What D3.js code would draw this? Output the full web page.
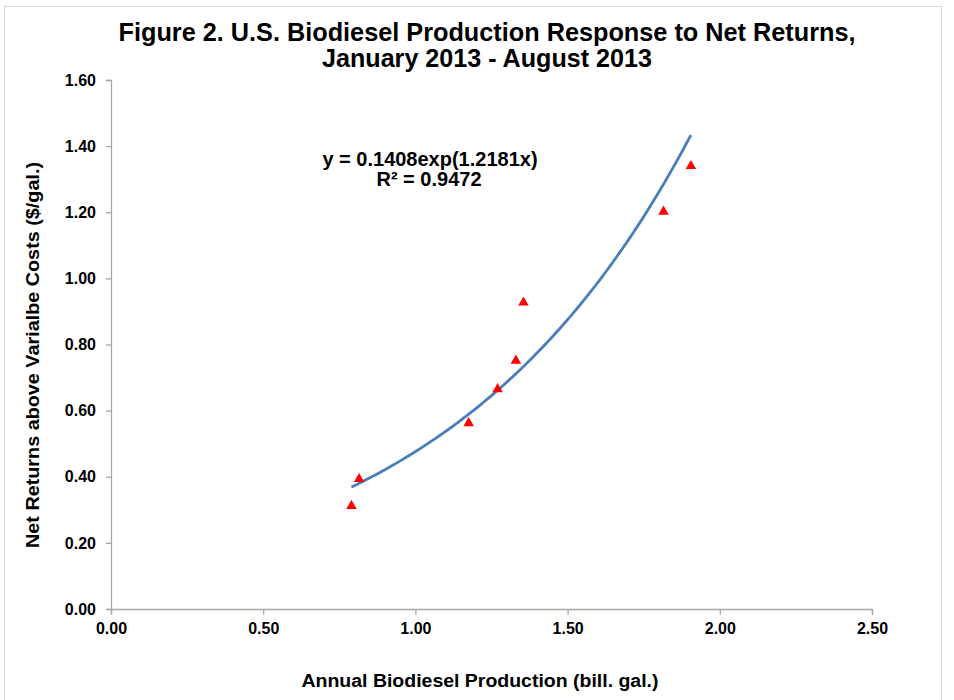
<!DOCTYPE html>
<html>
<head>
<meta charset="utf-8">
<script src="https://cdn.jsdelivr.net/npm/d3@7"></script>
<style>
  body { margin: 0; background: #fff; }
  svg text { font-family: "Liberation Sans", Arial, sans-serif; font-weight: bold; fill: #000; }
</style>
</head>
<body>
<svg width="954" height="700"></svg>
<script>
// Observed points (annual production, net returns)
const production = [0.79, 0.815, 1.175, 1.27, 1.33, 1.355, 1.815, 1.905];
const netReturns = [0.312, 0.393, 0.562, 0.665, 0.751, 0.927, 1.202, 1.34];

// Exponential trendline as printed on the chart
const fitA = 0.1408;
const fitB = 1.2181;
const fitR2 = "0.9472";
const fitRange = [0.79, 1.905];

const xTicks = [0, 0.5, 1.0, 1.5, 2.0, 2.5];
const yTicks = [0, 0.2, 0.4, 0.6, 0.8, 1.0, 1.2, 1.4, 1.6];

const titleLines = ["Figure 2. U.S. Biodiesel Production Response to Net Returns,", "January 2013 - August 2013"];

const svg = d3.select("svg");
const margin = { top: 80, right: 82, bottom: 91, left: 111 };
const width = 954 - margin.left - margin.right;
const height = 700 - margin.top - margin.bottom;

// outer frame
svg.append("rect")
   .attr("x", 4.5).attr("y", 6.5)
   .attr("width", 937).attr("height", 700)
   .attr("fill", "none")
   .attr("stroke", "#d9d9d9");

const g = svg.append("g")
             .attr("transform", `translate(${margin.left}, ${margin.top})`);

const x = d3.scaleLinear().domain([0, 2.5]).range([0, width]);
const y = d3.scaleLinear().domain([0, 1.6]).range([height, 0]);

const xAxis = g.append("g")
               .attr("transform", `translate(0, ${height})`)
               .call(d3.axisBottom(x).tickValues(xTicks).tickFormat(d3.format(".2f")).tickSizeOuter(0).tickSize(6).tickPadding(8));
const yAxis = g.append("g")
               .call(d3.axisLeft(y).tickValues(yTicks).tickFormat(d3.format(".2f")).tickSizeOuter(0).tickSize(5).tickPadding(10));

[xAxis, yAxis].forEach(a => {
  a.select(".domain").attr("stroke", "#a6a6a6").attr("stroke-width", 1.3);
  a.selectAll(".tick line").attr("stroke", "#a6a6a6").attr("stroke-width", 1.3);
  a.selectAll(".tick text").style("font-size", "16px").style("font-family", "Liberation Sans, Arial, sans-serif").style("font-weight", "bold").attr("fill", "#000");
});

// trendline
const curve = d3.range(0, 101).map(i => {
  const xv = fitRange[0] + (fitRange[1] - fitRange[0]) * i / 100;
  return [xv, fitA * Math.exp(fitB * xv)];
});
g.append("path")
 .datum(curve)
 .attr("fill", "none")
 .attr("stroke", "#4a7ebb")
 .attr("stroke-width", 2.8)
 .attr("d", d3.line().x(d => x(d[0])).y(d => y(d[1])).curve(d3.curveBasis));

// points
g.selectAll(".pt")
 .data(production.map((p, i) => [p, netReturns[i]]))
 .enter()
 .append("path")
 .attr("class", "pt")
 .attr("transform", d => `translate(${x(d[0])}, ${y(d[1])})`)
 .attr("d", d3.symbol().type(d3.symbolTriangle).size(48))
 .attr("fill", "#ff0000");

// equation
const eq = svg.append("text")
              .attr("text-anchor", "middle")
              .style("font-size", "20px");
eq.append("tspan").attr("x", 430).attr("y", 166).text(`y = ${fitA}exp(${fitB}x)`);
eq.append("tspan").attr("x", 429).attr("y", 186).text(`R² = ${fitR2}`);

// title
svg.selectAll(".title")
   .data(titleLines)
   .enter()
   .append("text")
   .attr("class", "title")
   .attr("x", 487)
   .attr("y", (d, i) => 41 + i * 26)
   .attr("text-anchor", "middle")
   .style("font-size", "25px")
   .attr("textLength", (d, i) => i === 0 ? 737 : 330)
   .attr("lengthAdjust", "spacingAndGlyphs")
   .text(d => d);

// axis titles
svg.append("text")
   .attr("x", 480).attr("y", 687)
   .attr("text-anchor", "middle")
   .style("font-size", "18px")
   .attr("textLength", 357)
   .attr("lengthAdjust", "spacingAndGlyphs")
   .text("Annual Biodiesel Production (bill. gal.)");

svg.append("text")
   .attr("transform", "translate(39, 355) rotate(-90)")
   .attr("text-anchor", "middle")
   .style("font-size", "18px")
   .attr("textLength", 386)
   .attr("lengthAdjust", "spacingAndGlyphs")
   .text("Net Returns above Varialbe Costs ($/gal.)");
</script>
</body>
</html>
